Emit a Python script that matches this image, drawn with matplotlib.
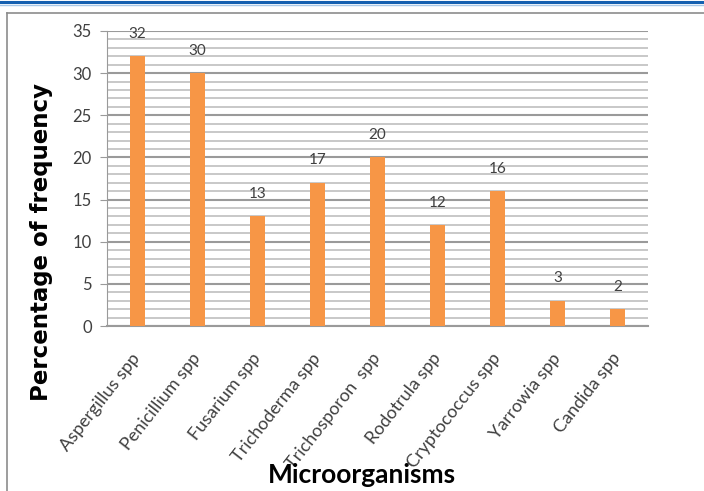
import matplotlib
matplotlib.use('Agg')
import matplotlib.pyplot as plt
from matplotlib.lines import Line2D
from matplotlib.ticker import MultipleLocator

# frequency of each genus (%)
organisms = ['Aspergillus spp', 'Penicillium spp', 'Fusarium spp', 'Trichoderma spp',
             'Trichosporon  spp', 'Rodotrula spp', 'Cryptococcus spp', 'Yarrowia spp',
             'Candida spp']
freq = [32, 30, 13, 17, 20, 12, 16, 3, 2]

bar_col = '#F79646'
txt_col = '#404040'

fig = plt.figure(figsize=(7.04, 4.91), dpi=100)
ax = fig.add_axes([0.152, 0.336, 0.768, 0.601])

x = range(len(organisms))
ax.bar(x, freq, width=0.25, color=bar_col, zorder=3)
for i, v in zip(x, freq):
    ax.annotate(str(v), (i, v), xytext=(0, 11), textcoords='offset points',
                ha='center', va='bottom', fontsize=11, color=txt_col,
                family='Lato')

ax.set_xlim(-0.5, len(organisms) - 0.5)
ax.set_ylim(0, 35)
ax.yaxis.set_major_locator(MultipleLocator(5))
ax.yaxis.set_minor_locator(MultipleLocator(1))
ax.grid(axis='y', which='minor', color='#c4c4c4', lw=1.3, zorder=0)
ax.grid(axis='y', which='major', color='#9a9a9a', lw=1.5, zorder=0)
ax.set_axisbelow(True)

for s in ['top', 'right']:
    ax.spines[s].set_visible(False)
ax.spines['left'].set_color('#9a9a9a')
ax.spines['bottom'].set_color('#9a9a9a')
ax.spines['bottom'].set_linewidth(1.5)

ax.tick_params(axis='y', which='major', length=5, color='#9a9a9a', pad=6,
               labelsize=12, labelcolor=txt_col)
ax.tick_params(axis='y', which='minor', length=0)
ax.tick_params(axis='x', length=0, pad=21)
ax.set_xticks(list(x))
ax.set_xticklabels(organisms, rotation=52, ha='right', va='center',
                   rotation_mode='anchor', fontsize=13, color=txt_col, family='Lato')
for lbl in ax.get_yticklabels():
    lbl.set_family('Lato')

ax.set_ylabel('Percentage of frequency', fontsize=16.5, fontweight='bold',
              family='DejaVu Sans')
ax.yaxis.set_label_coords(-0.1, 0.285)
fig.text(0.514, 0.016, 'Microorganisms', ha='center', va='baseline', fontsize=19,
         fontweight='bold', family='Lato')

# page header rule and panel frame
fig.add_artist(Line2D([0, 1], [0.995, 0.995], color='#1560b0', lw=2.2))
fig.add_artist(Line2D([0, 1], [0.989, 0.989], color='#a8c8e8', lw=1))
fig.add_artist(Line2D([0.01, 1], [0.974, 0.974], color='#8c8c8c', lw=1.2))
fig.add_artist(Line2D([0.01, 0.01], [0, 0.974], color='#8c8c8c', lw=1.2))

fig.savefig('out.png', dpi=100)
